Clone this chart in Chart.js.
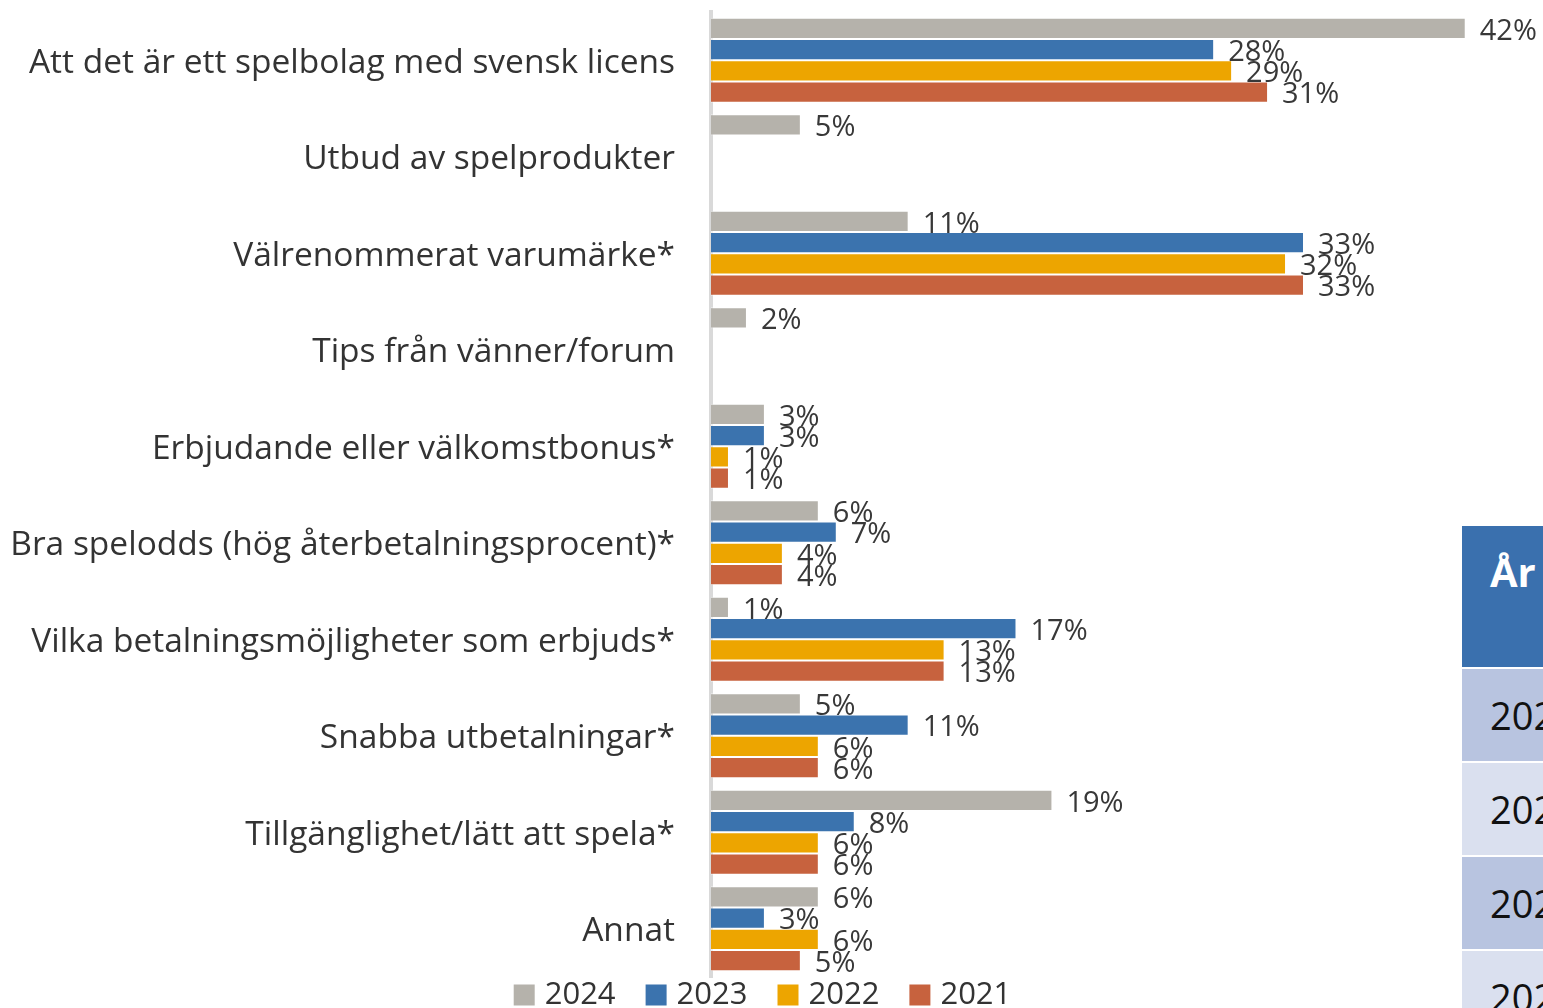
<!DOCTYPE html>
<html>
<head>
<meta charset="utf-8">
<script src="https://cdn.jsdelivr.net/npm/chart.js@4"></script>
<style>
  html, body { margin: 0; padding: 0; background: #fff; overflow: hidden; }
  #wrap { position: relative; width: 1543px; height: 1008px; overflow: hidden; }
  #chartSpel { position: absolute; left: 0; top: 0; }
  #tabell { position: absolute; left: 1462px; top: 526px; width: 120px; border-collapse: collapse;
            font-family: "Open Sans", sans-serif; }
  #tabell td, #tabell th { padding: 0 0 0 28px; text-align: left; border-bottom: 2px solid #fff; }
  #tabell th { background: #3a70ae; color: #fff; font-size: 40px; height: 142px; vertical-align: top; padding-top: 18px; box-sizing: border-box; }
  #tabell td { font-size: 38px; color: #111; height: 92px; }
  #tabell tr:nth-child(odd) td { background: #dae0ef; }
  #tabell tr:nth-child(even) td { background: #b8c4e0; }
</style>
</head>
<body>
<div id="wrap">
  <canvas id="chartSpel" width="1543" height="1008"></canvas>
  <table id="tabell">
    <tr><th>År</th></tr>
    <tr><td>2024</td></tr>
    <tr><td>2023</td></tr>
    <tr><td>2024</td></tr>
    <tr><td>2021</td></tr>
  </table>
</div>
<script>
// kategorier och värden (procent)
var kategorier = [
    "Att det är ett spelbolag med svensk licens",
    "Utbud av spelprodukter",
    "Välrenommerat varumärke*",
    "Tips från vänner/forum",
    "Erbjudande eller välkomstbonus*",
    "Bra spelodds (hög återbetalningsprocent)*",
    "Vilka betalningsmöjligheter som erbjuds*",
    "Snabba utbetalningar*",
    "Tillgänglighet/lätt att spela*",
    "Annat"
];
var ar2024 = [42, 5, 11, 2, 3, 6, 1, 5, 19, 6];
var ar2023 = [28, null, 33, null, 3, 7, 17, 11, 8, 3];
var ar2022 = [29, null, 32, null, 1, 4, 13, 6, 6, 6];
var ar2021 = [31, null, 33, null, 1, 4, 13, 6, 6, 5];

// plugin för etiketter vid staplarna
var etiketter = {
    id: "etiketter",
    afterDatasetsDraw: function(chart) {
        var ctx = chart.ctx;
        ctx.save();
        ctx.font = "29px 'Open Sans'";
        ctx.fillStyle = "#383838";
        ctx.textBaseline = "middle";
        ctx.textAlign = "left";
        chart.data.datasets.forEach(function(ds, i) {
            var meta = chart.getDatasetMeta(i);
            meta.data.forEach(function(bar, j) {
                var v = ds.data[j];
                if (v === null) return;
                ctx.fillText(v + "%", bar.x + 14, bar.y + 3);
            });
        });
        ctx.restore();
    }
};

// egen förklaring under diagrammet (tätare rader än Chart.js standard)
var forklaring = {
    id: "forklaring",
    afterDraw: function(chart) {
        var ctx = chart.ctx;
        var ruta = 21, glapp = 10, mellan = 30;
        ctx.save();
        ctx.font = "31px 'Open Sans'";
        ctx.textBaseline = "middle";
        var items = chart.data.datasets.map(function(ds) {
            return { text: ds.label, color: ds.backgroundColor, w: ctx.measureText(ds.label).width };
        });
        var total = 0;
        items.forEach(function(it, i) { total += ruta + glapp + it.w + (i > 0 ? mellan : 0); });
        var x = (chart.width - total) / 2 - 9;
        var y = chart.chartArea.bottom + 18;
        items.forEach(function(it) {
            ctx.fillStyle = it.color;
            ctx.fillRect(x, y - ruta / 2, ruta, ruta);
            ctx.fillStyle = "#333";
            ctx.fillText(it.text, x + ruta + glapp, y);
            x += ruta + glapp + it.w + mellan;
        });
        ctx.restore();
    }
};

var ctx = document.getElementById("chartSpel").getContext("2d");
var myChart = new Chart(ctx, {
    type: "bar",
    data: {
        labels: kategorier,
        datasets: [
            { label: "2024", data: ar2024, backgroundColor: "#b5b2ab" },
            { label: "2023", data: ar2023, backgroundColor: "#3b73ae" },
            { label: "2022", data: ar2022, backgroundColor: "#eda500" },
            { label: "2021", data: ar2021, backgroundColor: "#c7623e" }
        ]
    },
    options: {
        indexAxis: "y",
        responsive: false,
        animation: false,
        layout: { padding: { top: 12, right: 0, bottom: 31, left: 0 } },
        datasets: {
            bar: {
                categoryPercentage: 0.88,
                barPercentage: 1.0,
                borderColor: "rgba(255,255,255,0.6)",
                borderWidth: 1,
                skipNull: false
            }
        },
        scales: {
            x: {
                min: 0,
                max: 46.3,
                display: false,
                grid: { display: false }
            },
            y: {
                grid: { display: false, drawTicks: false },
                border: { color: "#d9d9d9", width: 4 },
                ticks: {
                    color: "#333",
                    padding: 36,
                    labelOffset: 3,
                    font: { family: "Open Sans", size: 33.5 }
                },
                afterFit: function(scale) {
                    scale.width = 711;
                    scale.paddingTop = 0;
                    scale.paddingBottom = 0;
                }
            }
        },
        plugins: {
            legend: { display: false },
            tooltip: { enabled: false }
        }
    },
    plugins: [etiketter, forklaring]
});
</script>
</body>
</html>
